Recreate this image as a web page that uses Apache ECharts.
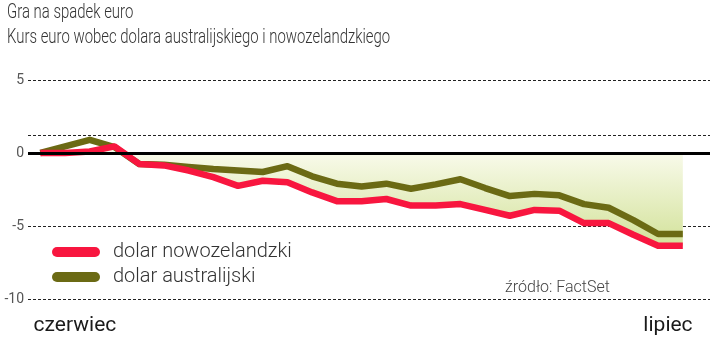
<!DOCTYPE html>
<html>
<head>
<meta charset="utf-8">
<script src="https://cdn.jsdelivr.net/npm/echarts@6/dist/echarts.min.js"></script>
<style>html,body{margin:0;padding:0;background:#fff}#c{width:720px;height:341px}</style>
</head>
<body>
<div id="c"></div>
<script>
// Data (percent change of EUR vs. AUD / NZD, daily, June -> July)
const titleText = 'Gra na spadek euro';
const subtitleText = 'Kurs euro wobec dolara australijskiego i nowozelandzkiego';
const sourceText = 'źródło: FactSet';
const seriesNames = ['dolar nowozelandzki', 'dolar australijski'];
const nzd = [0, 0, 0.1, 0.45, -0.75, -0.85, -1.2, -1.65, -2.25, -1.9, -2.0, -2.7, -3.3, -3.3, -3.15, -3.6, -3.6, -3.5, -3.9, -4.3, -3.9, -3.95, -4.8, -4.8, -5.6, -6.35, -6.35];
const aud = [0, 0.45, 0.9, 0.4, -0.75, -0.8, -0.95, -1.1, -1.2, -1.3, -0.9, -1.6, -2.1, -2.3, -2.1, -2.45, -2.15, -1.8, -2.4, -2.95, -2.8, -2.9, -3.5, -3.75, -4.6, -5.55, -5.55];
const xTickLabels = ['czerwiec', 'lipiec'];
const xTickPositions = [1.4, 25.4];
const yTicks = [5, 0, -5, -10];
const extraGridLine = 1.25;

const toPairs = arr => arr.map((v, i) => [i, v]);

const chart = echarts.init(document.getElementById('c'));
const F = 'Roboto, "Open Sans", sans-serif';
chart.setOption({
  animation: false,
  backgroundColor: '#fff',
  grid: { left: 28, right: 10, top: 80, bottom: 42 },
  xAxis: {
    type: 'value', min: -0.5, max: 27.1,
    axisLine: { show: false }, axisTick: { show: false }, splitLine: { show: false },
    axisLabel: {
      customValues: xTickPositions,
      formatter: v => xTickLabels[xTickPositions.indexOf(v)] || '',
      margin: 16, fontFamily: F, fontSize: 21, color: '#1a1a1a'
    }
  },
  yAxis: {
    type: 'value', min: -10, max: 5, interval: 5,
    axisLine: { show: false }, axisTick: { show: false },
    axisLabel: { margin: 4, fontFamily: F, fontSize: 14, color: '#555',
      formatter: v => yTicks.includes(v) ? String(v) : '' },
    splitLine: { show: true, lineStyle: { color: '#222', width: 1, type: [3, 2] } }
  },
  legend: {
    orient: 'vertical', left: 47, top: 237, itemGap: 5,
    itemWidth: 48, itemHeight: 10,
    data: seriesNames.map(n => ({ name: n, icon: 'path://M5,0 H43 A5,5 0 0 1 43,10 H5 A5,5 0 0 1 5,0 Z' })),
    textStyle: { fontFamily: F, fontWeight: 300, fontSize: 20, color: '#333', lineHeight: 20, padding: [0, 0, 0, 8] }
  },
  graphic: [
    { type: 'text', left: 7, top: 2, scaleX: 0.71, style: { text: titleText, font: '300 21px Roboto', fill: '#333' } },
    { type: 'text', left: 7, top: 27, scaleX: 0.71, style: { text: subtitleText, font: '300 21px Roboto', fill: '#333' } },
    { type: 'text', left: 505, top: 280, style: { text: sourceText, font: '300 16px Roboto', fill: '#444' } }
  ],
  series: [
    {
      name: 'area', type: 'line', data: toPairs(nzd), symbol: 'none', z: 1,
      lineStyle: { width: 0 }, silent: true,
      areaStyle: { opacity: 1, color: { type: 'linear', x: 0, y: 0, x2: 0, y2: 1,
        colorStops: [{ offset: 0, color: '#fbfcf0' }, { offset: 1, color: '#d3e29a' }] } },
      markLine: {
        silent: true, symbol: 'none', label: { show: false },
        data: [
          { yAxis: extraGridLine, lineStyle: { color: '#222', width: 1, type: [3, 2] } },
          { yAxis: 0, lineStyle: { color: '#000', width: 3, type: 'solid' } }
        ]
      }
    },
    {
      name: seriesNames[1], type: 'line', data: toPairs(aud), symbol: 'none', z: 3,
      color: '#6b6a14', lineStyle: { width: 6.5, color: '#6b6a14', join: 'round' }
    },
    {
      name: seriesNames[0], type: 'line', data: toPairs(nzd), symbol: 'none', z: 4,
      color: '#f8163f', lineStyle: { width: 6.5, color: '#f8163f', join: 'round' }
    }
  ]
});
</script>
</body>
</html>
